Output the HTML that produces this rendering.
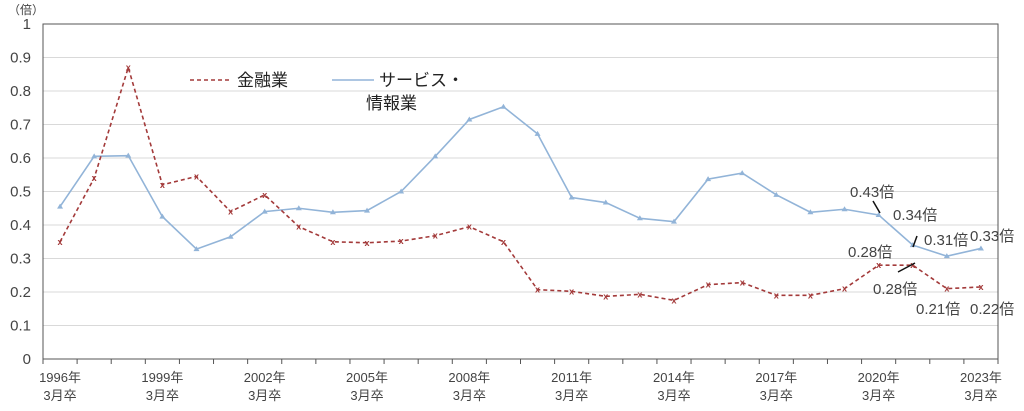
<!DOCTYPE html>
<html><head><meta charset="utf-8">
<style>
body{margin:0;background:#fff;}
svg{display:block;font-family:"Liberation Sans","Noto Sans CJK JP",sans-serif;}
</style></head><body>
<svg id="c" width="1024" height="411"></svg>
<script>
const years=[1996,1997,1998,1999,2000,2001,2002,2003,2004,2005,2006,2007,2008,2009,2010,2011,2012,2013,2014,2015,2016,2017,2018,2019,2020,2021,2022,2023];
const finance=[.35,.54,.87,.52,.545,.44,.49,.395,.35,.347,.352,.368,.395,.35,.207,.202,.187,.193,.175,.222,.228,.19,.19,.21,.28,.28,.21,.215];
const service=[.455,.605,.607,.425,.328,.365,.44,.45,.438,.443,.50,.605,.715,.753,.672,.482,.467,.42,.41,.537,.555,.49,.438,.447,.43,.34,.307,.33];
const yTicks=[0,0.1,0.2,0.3,0.4,0.5,0.6,0.7,0.8,0.9,1];
const yTickLabels=["0","0.1","0.2","0.3","0.4","0.5","0.6","0.7","0.8","0.9","1"];
const L=43,R=998,T=24,B=359;
const n=years.length,bw=(R-L)/n;
const x=i=>L+bw*(i+0.5);
const y=v=>B-(B-T)*v;
const s=document.getElementById('c');
const NS='http://www.w3.org/2000/svg';
function mk(tag,at,txt){const e=document.createElementNS(NS,tag);for(const k in at)e.setAttribute(k,at[k]);if(txt!=null)e.textContent=txt;s.appendChild(e);return e;}
yTicks.forEach((t,i)=>{
  if(t>0){const g=mk('line',{x1:L,x2:R,y1:y(t),y2:y(t),stroke:'#d9d9d9','stroke-width':1});
  
  }
  const tl=mk('text',{x:L-12,y:y(t)+5,'text-anchor':'end','font-size':15,fill:'#444'},yTickLabels[i]);
  
  
});
const fr=mk('rect',{x:L,y:T,width:R-L,height:B-T,fill:'none',stroke:'#555','stroke-width':1});


for(let i=0;i<=n;i++){const tk=mk('line',{x1:L+bw*i,x2:L+bw*i,y1:B,y2:B+5,stroke:'#555'});

}
years.forEach((yr,i)=>{if((yr-1996)%3===0){
  const a=mk('text',{x:x(i),y:382,'text-anchor':'middle','font-size':13,fill:'#444'},yr+'年');
  
  
  const b=mk('text',{x:x(i),y:400,'text-anchor':'middle','font-size':13,fill:'#444'},'3月卒');
  
  
}});
const yu=mk('text',{x:8,y:14,'font-size':12,fill:'#444'},'（倍）');


function series(vals,col,dash,name,tri){
  const p=mk('polyline',{points:vals.map((v,i)=>x(i)+','+y(v)).join(' '),fill:'none',stroke:col,'stroke-width':1.6,'stroke-dasharray':dash});
  
  
  vals.forEach((v,i)=>{let m;
    if(tri)m=mk('polygon',{points:`${x(i)},${y(v)-3} ${x(i)-3},${y(v)+2} ${x(i)+3},${y(v)+2}`,fill:col});
    else m=mk('text',{x:x(i),y:y(v)+3,'text-anchor':'middle','font-size':9,'font-weight':'bold',fill:col},'x');
    
    
  });
}
series(service,'#92b4d8','none','service',true);
series(finance,'#a33a3a','4,3','finance',false);
const l1=mk('line',{x1:190,x2:232,y1:80,y2:80,stroke:'#a33a3a','stroke-width':1.6,'stroke-dasharray':'4,3'});

const l1t=mk('text',{x:237,y:86,'font-size':17,fill:'#222'},'金融業');

const l2=mk('line',{x1:332,x2:374,y1:80,y2:80,stroke:'#92b4d8','stroke-width':1.6});

const l2t=mk('text',{x:379,y:86,'font-size':17,fill:'#222'},'サービス・');

const l2b=mk('text',{x:366,y:109,'font-size':17,fill:'#222'},'情報業');

const ann=[[850,197,'0.43倍'],[893,220,'0.34倍'],[924,245,'0.31倍'],[970,241,'0.33倍'],[848,257,'0.28倍'],[873,294,'0.28倍'],[916,314,'0.21倍'],[970,314,'0.22倍']];
ann.forEach(a=>{const t=mk('text',{x:a[0],y:a[1],'font-size':15,fill:'#444'},a[2]);
});
[[873,201,880,213],[917,236,913,247],[898,272,915,263]].forEach(c=>{const ln=mk('line',{x1:c[0],y1:c[1],x2:c[2],y2:c[3],stroke:'#111','stroke-width':1.5});
});
</script>
</body></html>
